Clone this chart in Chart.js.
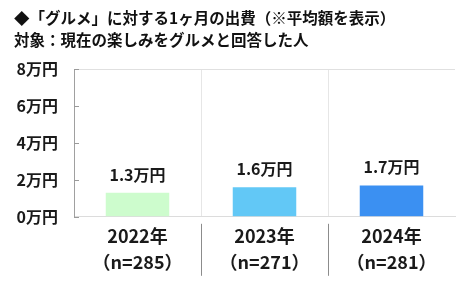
<!DOCTYPE html>
<html>
<head>
<meta charset="utf-8">
<script src="https://cdn.jsdelivr.net/npm/chart.js@4"></script>
<style>
html,body{margin:0;padding:0;background:#fff;}
#wrap{width:458px;height:281px;}
</style>
</head>
<body>
<div id="wrap"><canvas id="c" width="458" height="281"></canvas></div>
<script>
const titleLines = ["◆「グルメ」に対する1ヶ月の出費（※平均額を表示）", "対象：現在の楽しみをグルメと回答した人"];
const years = ["2022年", "2023年", "2024年"];
const sampleSizes = ["（n=285）", "（n=271）", "（n=281）"];
const values = [1.3, 1.6, 1.7];
const valueLabels = ["1.3万円", "1.6万円", "1.7万円"];
const yTicks = [0, 2, 4, 6, 8];
const unit = "万円";
const barColors = ["#cdfccd", "#62c8f6", "#3b90f2"];

const FONT = "'Noto Sans CJK JP', 'Noto Sans', sans-serif";

const categories = years.map((y, i) => [y, sampleSizes[i]]);

const valueLabelPlugin = {
  id: 'valueLabels',
  afterDatasetsDraw(chart) {
    const ctx = chart.ctx;
    const meta = chart.getDatasetMeta(0);
    ctx.save();
    ctx.font = "bold 16px " + FONT;
    ctx.fillStyle = "#1a1a1a";
    ctx.textAlign = "center";
    ctx.textBaseline = "middle";
    meta.data.forEach((bar, i) => {
      ctx.fillText(valueLabels[i], bar.x, bar.y - 18);
    });
    ctx.restore();
  }
};

const axisMarksPlugin = {
  id: 'axisMarks',
  afterDraw(chart) {
    const ctx = chart.ctx;
    const ys = chart.scales.y;
    const xs = chart.scales.x;
    const area = chart.chartArea;
    ctx.save();
    ctx.strokeStyle = "#9a9a9a";
    ctx.lineWidth = 1;
    yTicks.forEach(v => {
      const py = Math.round(ys.getPixelForValue(v)) + 0.5;
      ctx.beginPath();
      ctx.moveTo(area.left, py);
      ctx.lineTo(area.left + 5, py);
      ctx.stroke();
    });
    ctx.strokeStyle = "#8c8c8c";
    for (let i = 1; i < categories.length; i++) {
      const px = Math.round((xs.getPixelForTick(i - 1) + xs.getPixelForTick(i)) / 2) + 0.5;
      ctx.beginPath();
      ctx.moveTo(px, area.bottom + 7);
      ctx.lineTo(px, area.bottom + 59);
      ctx.stroke();
    }
    ctx.restore();
  }
};

new Chart(document.getElementById('c'), {
  type: 'bar',
  data: {
    labels: categories,
    datasets: [{
      data: values,
      backgroundColor: barColors,
      borderWidth: 0,
      categoryPercentage: 1,
      barPercentage: 0.5
    }]
  },
  options: {
    responsive: false,
    devicePixelRatio: 1,
    animation: false,
    layout: { padding: { left: 14, right: 3, top: 0, bottom: 0 } },
    plugins: {
      legend: { display: false },
      tooltip: { enabled: false },
      title: {
        display: true,
        text: titleLines,
        align: 'start',
        color: '#111',
        font: { family: FONT, size: 15.5, weight: 'bold', lineHeight: 1.42 },
        padding: { top: 7, bottom: 18 }
      }
    },
    scales: {
      x: {
        grid: {
          offset: true,
          drawTicks: false,
          color: (c) => (c.index === 1 || c.index === 2) ? '#e6e6e6' : 'rgba(0,0,0,0)'
        },
        border: { color: '#dcdcdc', width: 1 },
        ticks: {
          color: '#1a1a1a',
          padding: 6,
          maxRotation: 0,
          autoSkip: false,
          font: { family: FONT, size: 18, weight: 'bold', lineHeight: 1.45 }
        }
      },
      y: {
        min: 0,
        max: 8,
        afterBuildTicks: (s) => { s.ticks = yTicks.map(v => ({ value: v })); },
        afterFit: (s) => { s.width = 60; },
        grid: {
          drawTicks: false,
          color: (c) => (c.tick && c.tick.value === 8) ? '#e0e0e0' : 'rgba(0,0,0,0)'
        },
        border: { color: '#a0a0a0', width: 1 },
        ticks: {
          color: '#1a1a1a',
          padding: 16,
          callback: (v) => v + unit,
          font: { family: FONT, size: 16, weight: 'bold' }
        }
      }
    }
  },
  plugins: [valueLabelPlugin, axisMarksPlugin]
});
</script>
</body>
</html>
